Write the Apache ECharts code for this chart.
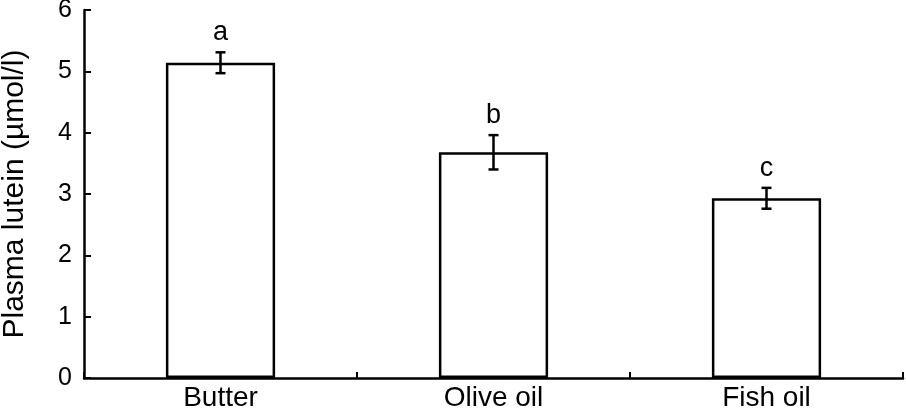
<!DOCTYPE html>
<html>
<head>
<meta charset="utf-8">
<style>html,body{margin:0;padding:0;background:#fff;}#c{width:906px;height:411px;}</style>
<script src="https://cdn.jsdelivr.net/npm/echarts@6/dist/echarts.min.js"></script>
</head>
<body>
<div id="c"></div>
<script>
const categories = ['Butter', 'Olive oil', 'Fish oil'];
const means = [5.14, 3.68, 2.93];
const errors = [0.17, 0.28, 0.17];
const letters = ['a', 'b', 'c'];
const yTicks = [0, 1, 2, 3, 4, 5, 6];

const FONT = '"Liberation Sans", Arial, sans-serif';
const chart = echarts.init(document.getElementById('c'), null, {renderer: 'canvas'});

const errData = categories.map((c, i) => [i, means[i], errors[i]]);

chart.setOption({
  animation: false,
  grid: {left: 84, right: 3, top: 10, bottom: 33, containLabel: false, outerBoundsMode: 'none'},
  xAxis: {
    type: 'category',
    data: categories,
    boundaryGap: true,
    axisLine: {lineStyle: {color: '#000', width: 2.5}},
    axisTick: {show: true, inside: true, length: 6, alignWithLabel: false, lineStyle: {color: '#000', width: 2}},
    axisLabel: {color: '#000', fontFamily: FONT, fontSize: 28, margin: 6}
  },
  yAxis: {
    type: 'value',
    min: yTicks[0],
    max: yTicks[yTicks.length - 1],
    interval: 1,
    name: 'Plasma lutein (µmol/l)',
    nameLocation: 'middle',
    nameGap: 54,
    nameTextStyle: {color: '#000', fontFamily: FONT, fontSize: 30},
    axisLine: {show: true, lineStyle: {color: '#000', width: 2.5}},
    axisTick: {show: true, inside: true, length: 7, lineStyle: {color: '#000', width: 2}},
    axisLabel: {color: '#000', fontFamily: FONT, fontSize: 25, margin: 12},
    splitLine: {show: false}
  },
  series: [
    {
      type: 'bar',
      data: means,
      barWidth: '40%',
      itemStyle: {color: '#fff', borderColor: '#000', borderWidth: 2.5}
    },
    {
      type: 'custom',
      data: errData,
      z: 10,
      renderItem: function (params, api) {
        const i = api.value(0);
        const m = api.value(1);
        const e = api.value(2);
        const top = api.coord([i, m + e]);
        const bot = api.coord([i, m - e]);
        const hw = 5;
        const st = {stroke: '#000', lineWidth: 2.5};
        return {
          type: 'group',
          children: [
            {type: 'line', shape: {x1: top[0], y1: top[1], x2: bot[0], y2: bot[1]}, style: st},
            {type: 'line', shape: {x1: top[0] - hw, y1: top[1], x2: top[0] + hw, y2: top[1]}, style: st},
            {type: 'line', shape: {x1: bot[0] - hw, y1: bot[1], x2: bot[0] + hw, y2: bot[1]}, style: st},
            {type: 'text', style: {text: letters[params.dataIndex], x: top[0], y: top[1] - 6, textAlign: 'center', textVerticalAlign: 'bottom', fill: '#000', font: '27px ' + FONT}}
          ]
        };
      }
    }
  ]
});
</script>
</body>
</html>
